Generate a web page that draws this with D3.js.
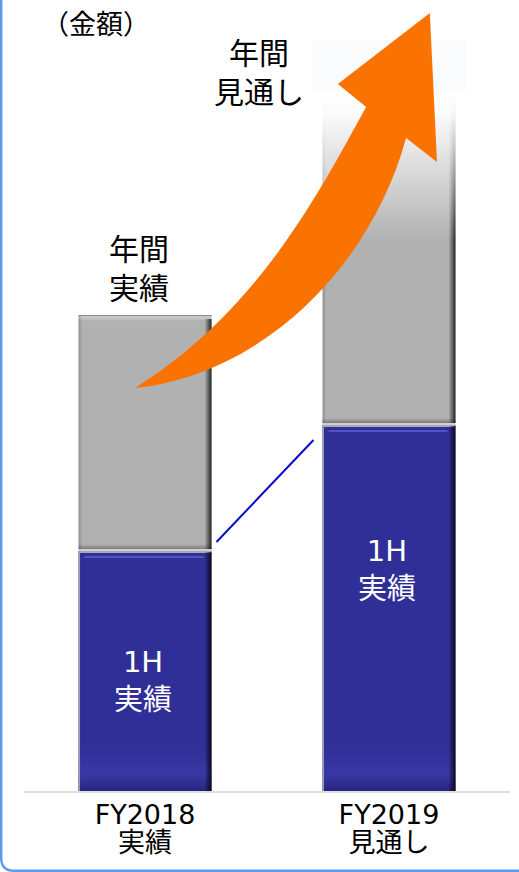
<!DOCTYPE html>
<html lang="ja">
<head>
<meta charset="utf-8">
<script src="https://cdn.jsdelivr.net/npm/d3@7"></script>
<style>
  html, body { margin: 0; padding: 0; background: #fff; }
  svg { display: block; }
  text { font-family: "DejaVu Sans", "Noto Sans CJK JP", sans-serif; }
  text.cjk { font-family: "Noto Sans CJK JP", sans-serif; }
</style>
</head>
<body>
<svg id="chart" width="519" height="872"></svg>
<script>
// Fiscal years shown as stacked bars: first half (actual) under full year
const categories = ["FY2018", "FY2019"];
const categorySubLabels = ["実績", "見通し"];
const firstHalf = [240, 366];      // 1H actual amount
const fullYear = [476, 700];       // full-year actual / forecast amount
const topLabels = [["年間", "実績"], ["年間", "見通し"]];
const innerLabel = ["1H", "実績"];
const unitLabel = "（金額）";

// Trend arrow outline: [fraction across the bar span, amount]
const arrowTail = [0.150, 403];
const arrowRightEdge = [[0.481, 416], [0.773, 521], [0.869, 653]];
const arrowHead = [[0.951, 629], [0.932, 778], [0.688, 707], [0.763, 684]];
const arrowLeftEdge = [[0.641, 601], [0.481, 481], [0.150, 403]];

const svg = d3.select("#chart");
const W = 519, H = 872;

const x = d3.scaleBand().domain(categories).range([24, 510])
  .paddingInner(0.455).paddingOuter(0.2235);
const y = d3.scaleLinear().domain([0, 760]).range([791, 31]);
const bw = x.bandwidth();

// ---------- gradients ----------
const defs = svg.append("defs");
function linGrad(id, x1, y1, x2, y2, stops) {
  const g = defs.append("linearGradient").attr("id", id)
    .attr("x1", x1).attr("y1", y1).attr("x2", x2).attr("y2", y2);
  stops.forEach(s => g.append("stop").attr("offset", s[0])
    .attr("stop-color", s[1]).attr("stop-opacity", s[2]));
}
linGrad("topHi", 0, 0, 0, 1, [[0, "#fff", 0.55], [1, "#fff", 0]]);
linGrad("rightShade", 0, 0, 1, 0, [[0, "#000", 0], [0.45, "#000", 0.35], [1, "#000", 0.8]]);
linGrad("leftShade", 0, 0, 1, 0, [[0, "#000", 0.18], [1, "#000", 0]]);
linGrad("botShade", 0, 0, 0, 1, [[0, "#000", 0], [1, "#000", 0.3]]);
linGrad("blueBottom", 0, 0, 0, 1, [[0, "#4848c0", 0], [0.6, "#4848c0", 0.35], [1, "#1a1a60", 0.5]]);
linGrad("fadeTop", 0, 0, 0, 1, [[0, "#fff", 1], [0.15, "#fff", 0.95], [1, "#fff", 0]]);

// ---------- frame ----------
svg.append("path")
  .attr("d", `M1.2,0 V858 Q1.2,870.8 14,870.8 H${W}`)
  .attr("fill", "none").attr("stroke", "#5a9af2").attr("stroke-width", 2.4);

// faint backdrop behind the forecast label
svg.append("rect")
  .attr("x", x("FY2019") - 11).attr("y", y(751))
  .attr("width", bw + 22).attr("height", y(700) - y(751))
  .attr("fill", "#fafbfd");

// ---------- bars ----------
function segment(g, x0, yTop, yBot, base, isBlue) {
  const h = yBot - yTop;
  g.append("rect").attr("x", x0).attr("y", yTop).attr("width", bw).attr("height", h)
    .attr("fill", base);
  if (isBlue) {
    g.append("rect").attr("x", x0).attr("y", yBot - 45).attr("width", bw).attr("height", 45)
      .attr("fill", "url(#blueBottom)");
    g.append("rect").attr("x", x0).attr("y", yTop).attr("width", bw).attr("height", 2)
      .attr("fill", "#a8a8b8");
    g.append("rect").attr("x", x0 + 6).attr("y", yTop + 5).attr("width", bw - 14).attr("height", 2)
      .attr("fill", "#5c5cd0").attr("opacity", 0.8);
    g.append("rect").attr("x", x0).attr("y", yTop).attr("width", 1.5).attr("height", h)
      .attr("fill", "#9c9cb4");
  } else {
    g.append("rect").attr("x", x0).attr("y", yTop).attr("width", bw).attr("height", 6)
      .attr("fill", "url(#topHi)");
    g.append("rect").attr("x", x0).attr("y", yBot - 5).attr("width", bw).attr("height", 5)
      .attr("fill", "url(#botShade)");
    g.append("rect").attr("x", x0).attr("y", yTop).attr("width", 4).attr("height", h)
      .attr("fill", "url(#leftShade)");
    g.append("rect").attr("x", x0).attr("y", yTop).attr("width", bw).attr("height", 1.2)
      .attr("fill", "#8c8c8c");
  }
  g.append("rect").attr("x", x0 + bw - 7).attr("y", yTop + (isBlue ? 1 : 4))
    .attr("width", 7).attr("height", h - (isBlue ? 1 : 4))
    .attr("fill", "url(#rightShade)");
}

const bars = svg.append("g");
categories.forEach((c, i) => {
  const g = bars.append("g");
  const x0 = x(c);
  segment(g, x0, y(fullYear[i]), y(firstHalf[i]) - 2, "#b1b1b1", false);
  g.append("rect").attr("x", x0).attr("y", y(firstHalf[i]) - 2)
    .attr("width", bw).attr("height", 2).attr("fill", "#cfcfcf");
  segment(g, x0, y(firstHalf[i]), y(0), "#302f97", true);
  if (i === 1) {
    // the forecast total fades out towards the top
    g.append("rect").attr("x", x0 - 1).attr("y", y(fullYear[i]))
      .attr("width", bw + 2).attr("height", y(fullYear[i] - 150) - y(fullYear[i]))
      .attr("fill", "url(#fadeTop)");
  }
});

// baseline
svg.append("line")
  .attr("x1", 24).attr("x2", 510).attr("y1", y(0) + 1).attr("y2", y(0) + 1)
  .attr("stroke", "#d2d2d2").attr("stroke-width", 1.5);

// connector between the 1H tops
svg.append("line")
  .attr("x1", x("FY2018") + bw + 5).attr("y1", y(firstHalf[0]) - 9)
  .attr("x2", x("FY2019") - 9).attr("y2", y(firstHalf[1]) + 15)
  .attr("stroke", "#0a0ad0").attr("stroke-width", 2);

// ---------- trend arrow ----------
const ax = d3.scaleLinear().domain([0, 1]).range([x("FY2018"), x("FY2019") + bw]);
const P = p => `${ax(p[0])},${y(p[1])}`;
const arrowPath = `M${P(arrowTail)} C${arrowRightEdge.map(P).join(" ")} ` +
  arrowHead.map(p => "L" + P(p)).join(" ") +
  ` C${arrowLeftEdge.map(P).join(" ")} Z`;
svg.append("path").attr("d", arrowPath).attr("fill", "#fa7300");

// ---------- labels ----------
svg.append("text").attr("class", "cjk").attr("x", 96).attr("y", 22)
  .attr("text-anchor", "middle").attr("dominant-baseline", "central")
  .style("font-size", "27px").attr("fill", "#000").text(unitLabel);

const topLabelPos = [[139, 249], [259, 53]];
topLabels.forEach((lines, i) => {
  lines.forEach((t, k) => {
    svg.append("text").attr("x", topLabelPos[i][0]).attr("y", topLabelPos[i][1] + k * 39)
      .attr("text-anchor", "middle").attr("dominant-baseline", "central")
      .attr("font-size", 30).attr("fill", "#000").text(t);
  });
});

const innerFrac = [0.54, 0.395];
categories.forEach((c, i) => {
  const cy = y(firstHalf[i]) + innerFrac[i] * (y(0) - y(firstHalf[i]));
  innerLabel.forEach((t, k) => {
    svg.append("text").attr("x", x(c) + bw / 2 - 2).attr("y", cy + (k - 0.5) * 38)
      .attr("text-anchor", "middle").attr("dominant-baseline", "central")
      .attr("font-size", 29).attr("fill", "#fff").text(t);
  });
});

categories.forEach((c, i) => {
  svg.append("text").attr("x", x(c) + bw / 2).attr("y", 814)
    .attr("text-anchor", "middle").attr("dominant-baseline", "central")
    .attr("font-size", 27).attr("fill", "#000").text(c);
  svg.append("text").attr("x", x(c) + bw / 2).attr("y", 842)
    .attr("text-anchor", "middle").attr("dominant-baseline", "central")
    .attr("font-size", 27).attr("fill", "#000").text(categorySubLabels[i]);
});
</script>
</body>
</html>
